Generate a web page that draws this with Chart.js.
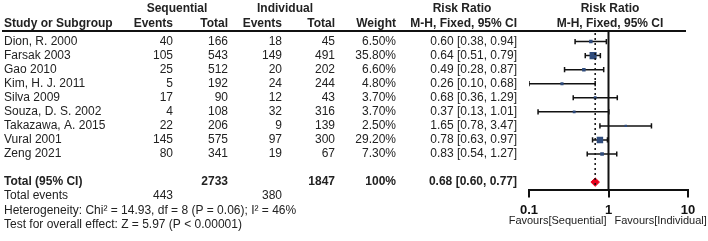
<!DOCTYPE html>
<html>
<head>
<meta charset="utf-8">
<script src="https://cdn.jsdelivr.net/npm/chart.js@4/dist/chart.umd.min.js"></script>
<style>
  html, body { margin: 0; padding: 0; background: #fff; }
  #wrap { position: relative; width: 708px; height: 241px; }
</style>
</head>
<body>
<div id="wrap"><canvas id="forest"></canvas></div>
<script>
// Datos del forest plot
const studies = ["Dion, R. 2000", "Farsak 2003", "Gao 2010", "Kim, H. J. 2011", "Silva 2009",
  "Souza, D. S. 2002", "Takazawa, A. 2015", "Vural 2001", "Zeng 2021"];
const seqEvents = [40, 105, 25, 5, 17, 4, 22, 145, 80];
const seqTotal = [166, 543, 512, 192, 90, 108, 206, 575, 341];
const indEvents = [18, 149, 20, 24, 12, 32, 9, 97, 19];
const indTotal = [45, 491, 202, 244, 43, 316, 139, 300, 67];
const weights = [6.5, 35.8, 6.6, 4.8, 3.7, 3.7, 2.5, 29.2, 7.3];
const rr = [0.60, 0.64, 0.49, 0.26, 0.68, 0.37, 1.65, 0.78, 0.83];
const ciLow = [0.38, 0.51, 0.28, 0.10, 0.36, 0.13, 0.78, 0.63, 0.54];
const ciHigh = [0.94, 0.79, 0.87, 0.68, 1.29, 1.01, 3.47, 0.97, 1.27];

const pooled = 0.68;
const pooledLow = 0.60;
const pooledHigh = 0.77;
const totalSeq = 2733;
const totalInd = 1847;
const totalSeqEvents = 443;
const totalIndEvents = 380;
const heterogeneity = "Heterogeneity: Chi\u00b2 = 14.93, df = 8 (P = 0.06); I\u00b2 = 46%";
const overallTest = "Test for overall effect: Z = 5.97 (P < 0.00001)";

const xTicks = [0.1, 1, 10];
const favoursLeft = "Favours[Sequential]";
const favoursRight = "Favours[Individual]";

const totalRow = studies.length + 1;
const fmt2 = v => v.toFixed(2);
const textColor = "#222";
const FONT = "Arial, 'Liberation Sans', sans-serif";

// Barras de IC, una por estudio
const ciDatasets = studies.map((s, i) => ({
  type: "scatter",
  data: [{ x: ciLow[i], y: i }, { x: ciHigh[i], y: i }],
  showLine: true,
  borderColor: "#111",
  borderWidth: 1.5,
  pointStyle: "line",
  rotation: 90,
  pointRadius: 2.6,
  pointBorderColor: "#111",
  pointBorderWidth: 1.5,
  order: 2
}));

const tablePlugin = {
  id: "forestTable",
  afterDraw(chart) {
    const { ctx, chartArea, scales } = chart;
    const x = scales.x;
    const y = scales.y;
    const rowY = i => y.getPixelForValue(i);
    const x1 = x.getPixelForValue(1);

    ctx.save();

    // línea vertical en RR = 1
    ctx.strokeStyle = "#111";
    ctx.lineWidth = 2;
    ctx.beginPath();
    ctx.moveTo(x1, chartArea.top);
    ctx.lineTo(x1, chartArea.bottom);
    ctx.stroke();

    // línea del encabezado
    ctx.beginPath();
    ctx.moveTo(2, chartArea.top);
    ctx.lineTo(686, chartArea.top);
    ctx.stroke();

    // línea punteada del efecto combinado
    ctx.lineWidth = 1.5;
    ctx.setLineDash([2, 3]);
    ctx.beginPath();
    ctx.moveTo(x.getPixelForValue(pooled), chartArea.top + 2);
    ctx.lineTo(x.getPixelForValue(pooled), rowY(totalRow + 0.4));
    ctx.stroke();
    ctx.setLineDash([]);

    const put = (txt, px, py, align, bold, size) => {
      ctx.font = (bold ? "bold " : "") + (size || 12) + "px " + FONT;
      ctx.textAlign = align;
      ctx.textBaseline = "middle";
      ctx.fillStyle = textColor;
      ctx.fillText(txt, px, py);
    };

    // encabezados
    put("Sequential", 177, 9, "center", true);
    put("Individual", 285, 9, "center", true);
    put("Risk Ratio", 462, 9, "center", true);
    put("Risk Ratio", 610, 9, "center", true);
    put("Study or Subgroup", 4, 24, "left", true);
    put("Events", 173, 24, "right", true);
    put("Total", 228, 24, "right", true);
    put("Events", 282, 24, "right", true);
    put("Total", 335, 24, "right", true);
    put("Weight", 396, 24, "right", true);
    put("M-H, Fixed, 95% CI", 517, 24, "right", true);
    put("M-H, Fixed, 95% CI", 610, 24, "center", true);

    // filas de estudios
    studies.forEach((s, i) => {
      const py = rowY(i);
      put(s, 4, py, "left", false);
      put(String(seqEvents[i]), 173, py, "right", false);
      put(String(seqTotal[i]), 228, py, "right", false);
      put(String(indEvents[i]), 282, py, "right", false);
      put(String(indTotal[i]), 335, py, "right", false);
      put(weights[i].toFixed(2) + "%", 396, py, "right", false);
      put(`${fmt2(rr[i])} [${fmt2(ciLow[i])}, ${fmt2(ciHigh[i])}]`, 517, py, "right", false);
    });

    // totales
    const ty = rowY(totalRow);
    put("Total (95% CI)", 4, ty, "left", true);
    put(String(totalSeq), 228, ty, "right", true);
    put(String(totalInd), 335, ty, "right", true);
    put("100%", 396, ty, "right", true);
    put(`${fmt2(pooled)} [${fmt2(pooledLow)}, ${fmt2(pooledHigh)}]`, 517, ty, "right", true);

    put("Total events", 4, rowY(totalRow + 1), "left", false);
    put(String(totalSeqEvents), 173, rowY(totalRow + 1), "right", false);
    put(String(totalIndEvents), 282, rowY(totalRow + 1), "right", false);
    put(heterogeneity, 4, rowY(totalRow + 2), "left", false);
    put(overallTest, 4, rowY(totalRow + 3), "left", false);

    // etiquetas "Favours" bajo el eje
    put(favoursLeft, x1 - 2, chartArea.bottom + 31, "right", false, 11);
    put(favoursRight, x1 + 6, chartArea.bottom + 31, "left", false, 11);

    ctx.restore();
  }
};

const ctx = document.getElementById("forest").getContext("2d");
new Chart(ctx, {
  type: "scatter",
  data: {
    datasets: [
      {
        // cuadrados con tamaño según peso
        data: studies.map((s, i) => ({ x: rr[i], y: i })),
        pointStyle: "rect",
        pointRadius: weights.map(w => (0.8 + 1.05 * Math.sqrt(w)) / Math.SQRT2),
        backgroundColor: "#2f4b7c",
        borderColor: "#2f4b7c",
        borderWidth: 0,
        order: 0
      },
      {
        // diamante del efecto combinado
        data: [
          { x: pooledLow, y: totalRow },
          { x: pooled, y: totalRow - 0.3 },
          { x: pooledHigh, y: totalRow },
          { x: pooled, y: totalRow + 0.3 },
          { x: pooledLow, y: totalRow }
        ],
        showLine: true,
        fill: "shape",
        borderColor: "#e8001c",
        backgroundColor: "#e8001c",
        borderWidth: 1,
        pointRadius: 0,
        order: 1
      },
      ...ciDatasets
    ]
  },
  options: {
    responsive: true,
    maintainAspectRatio: false,
    animation: false,
    layout: { padding: { left: 529, right: 20, top: 31, bottom: 18 } },
    plugins: {
      legend: { display: false },
      tooltip: { enabled: false }
    },
    scales: {
      x: {
        type: "logarithmic",
        min: 0.1,
        max: 10,
        afterBuildTicks: (scale) => {
          scale.ticks = xTicks.map(v => ({ value: v }));
        },
        border: { display: true, color: "#111", width: 2 },
        grid: {
          drawOnChartArea: false,
          drawTicks: true,
          tickLength: 7,
          color: "#111",
          lineWidth: 2
        },
        ticks: {
          padding: 5,
          maxRotation: 0,
          autoSkip: false,
          color: "#111",
          font: { size: 13, weight: "bold", family: FONT },
          callback: (v) => String(v)
        },
        title: { display: false }
      },
      y: {
        display: false,
        reverse: true,
        min: -0.75,
        max: 10.59
      }
    }
  },
  plugins: [tablePlugin]
});
</script>
</body>
</html>
